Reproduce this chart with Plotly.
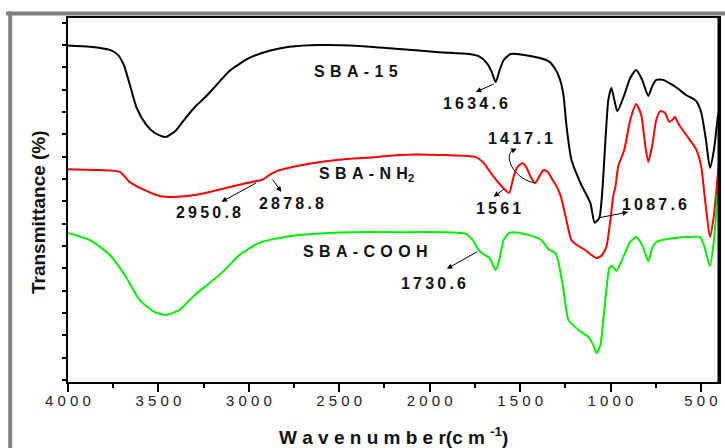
import plotly.graph_objects as go

# FTIR spectra: wavenumber (cm^-1) and relative transmittance (arbitrary offset units)
wn_sba15 = [4000, 3879, 3768, 3724, 3691, 3658, 3620, 3570, 3520, 3460, 3405, 3349, 3294, 3239, 3184,
            3107, 2997, 2886, 2776, 2611, 2390, 2170, 1949, 1784, 1729, 1685, 1657, 1635, 1613, 1591,
            1552, 1436, 1343, 1310, 1282, 1260, 1244, 1216, 1166, 1111, 1088, 1062, 1045, 1028, 1012,
            995, 979, 962, 924, 891, 858, 825, 791, 769, 747, 709, 676, 626, 582, 527, 499, 472, 450,
            428, 405, 389]
t_sba15 = [74.9, 74.6, 73.9, 72.8, 70.5, 66.1, 60.9, 57.3, 55.3, 54.4, 55.8, 58.7, 61.3, 63.4, 65.8,
           69.2, 72.1, 73.7, 74.6, 75.0, 74.8, 74.1, 73.4, 73.0, 72.5, 71.0, 69.0, 66.7, 69.4, 71.6,
           73.0, 72.5, 71.4, 69.9, 67.6, 63.8, 57.1, 49.3, 44.1, 39.6, 35.2, 36.3, 42.5, 53.7, 62.7,
           65.4, 62.7, 60.2, 63.8, 67.6, 69.4, 67.2, 63.6, 65.8, 67.2, 67.2, 66.5, 65.2, 63.8, 62.5,
           60.0, 53.7, 47.5, 51.5, 59.3, 61.6]

wn_nh2 = [4000, 3824, 3713, 3658, 3575, 3493, 3399, 3300, 3217, 3035, 2951, 2925, 2879, 2842, 2776,
          2666, 2500, 2296, 2170, 1949, 1745, 1701, 1673, 1618, 1561, 1536, 1514, 1486, 1464, 1442,
          1417, 1392, 1370, 1348, 1326, 1299, 1277, 1260, 1244, 1216, 1177, 1139, 1106, 1078, 1050,
          1023, 1001, 984, 973, 957, 924, 891, 858, 830, 808, 791, 769, 747, 725, 698, 676, 659,
          643, 626, 582, 527, 499, 477, 450, 428, 405, 389]
t_nh2 = [47.2, 47.0, 46.6, 44.3, 42.5, 41.2, 41.0, 41.4, 42.1, 43.9, 44.6, 44.8, 46.1, 46.8, 47.5,
         48.4, 49.3, 49.9, 50.4, 50.4, 49.9, 48.6, 47.0, 44.1, 41.9, 45.5, 47.7, 48.6, 47.5, 45.5,
         44.1, 45.7, 47.0, 46.6, 45.2, 43.4, 41.4, 38.7, 35.8, 31.3, 30.0, 29.1, 28.0, 27.3, 27.8,
         29.8, 35.8, 41.4, 43.2, 47.9, 51.5, 58.2, 61.8, 59.3, 52.6, 48.8, 52.6, 58.2, 60.2, 59.8,
         57.8, 58.2, 58.9, 57.5, 54.9, 51.7, 47.9, 40.3, 32.0, 36.9, 46.6, 52.8]

wn_cooh = [4000, 3879, 3768, 3686, 3603, 3520, 3454, 3383, 3300, 3217, 3134, 3052, 2942, 2776, 2556,
           2170, 1800, 1762, 1729, 1696, 1668, 1635, 1613, 1591, 1563, 1536, 1453, 1381, 1343, 1304,
           1288, 1260, 1232, 1177, 1122, 1095, 1078, 1056, 1040, 1023, 1006, 990, 968, 924, 891,
           858, 825, 791, 769, 747, 676, 571, 505, 483, 450, 428, 405, 383]
t_cooh = [32.9, 31.3, 28.0, 23.5, 17.9, 15.2, 14.6, 15.7, 19.0, 21.7, 24.6, 28.0, 30.7, 32.2, 32.9,
          33.1, 32.7, 31.3, 29.1, 28.0, 27.3, 24.6, 27.3, 31.3, 32.9, 33.1, 32.5, 31.3, 29.3, 28.4,
          26.4, 20.2, 13.4, 11.2, 9.6, 7.8, 6.0, 7.8, 13.4, 20.2, 25.1, 25.5, 24.4, 28.0, 30.9,
          32.0, 30.2, 26.6, 29.6, 30.9, 31.6, 32.0, 32.0, 30.2, 25.5, 31.3, 42.8, 55.5]

# x-axis ticks
x_ticks = [4000, 3500, 3000, 2500, 2000, 1500, 1000, 500]
x_minor = [3750, 3250, 2750, 2250, 1750, 1250, 750]

FONT = "Liberation Sans, Arial, sans-serif"
TS = "\u2009"  # thin space used for the letter-spaced labels


def spaced(s, sep=TS):
    return sep.join(s)


fig = go.Figure()
for wn, t, col in [(wn_sba15, t_sba15, "#000000"),
                   (wn_nh2, t_nh2, "#FF0000"),
                   (wn_cooh, t_cooh, "#00F000")]:
    fig.add_trace(go.Scatter(x=wn, y=t, mode="lines",
                             line=dict(color=col, width=2, shape="spline", smoothing=0.6),
                             showlegend=False, hoverinfo="skip"))

# peak labels: (text, x, y)
peak_labels = [("1634.6", 1748, 62.0), ("1417.1", 1500, 54.0), ("1561", 1621, 38.3),
               ("1087.6", 758, 39.4), ("2950.8", 3223, 37.4), ("2878.8", 2762, 39.6),
               ("1730.6", 1977, 21.7)]
for txt, x, y in peak_labels:
    fig.add_annotation(x=x, y=y, text="<b>" + spaced(txt) + "</b>", showarrow=False,
                       font=dict(family=FONT, size=16, color="#111111"))

# arrows: head (x, y) <- tail (ax, ay)
arrows = [(1745, 64.5, 1637, 66.4), (3151, 39.9, 2951, 44.3), (2820, 42.1, 2875, 45.2),
          (1646, 41.0, 1580, 43.0), (902, 37.6, 1067, 36.3), (1905, 24.9, 1729, 28.9),
          (1519, 51.8, 1547, 51.3)]
for x, y, ax, ay in arrows:
    fig.add_annotation(x=x, y=y, ax=ax, ay=ay, xref="x", yref="y", axref="x", ayref="y",
                       text="", showarrow=True, arrowhead=2, arrowsize=1.1, arrowwidth=1,
                       arrowcolor="#000000")

# curved leader for the 1417.1 band
fig.add_shape(type="path", xref="x", yref="y",
              path="M 1417 44.1 C 1519 44.8, 1591 49.3, 1547 51.3",
              line=dict(color="#000000", width=1))

# sample names
EN = "\u2004"
fig.add_annotation(x=2409, y=69.0, text="<b>" + spaced("SBA-15", EN) + "</b>", showarrow=False,
                   font=dict(family=FONT, size=16, color="#111111"))
fig.add_annotation(x=2349, y=45.9, yanchor="middle",
                   text="<b>" + spaced("SBA-NH", EN) + "<sub>2</sub></b>", showarrow=False,
                   font=dict(family=FONT, size=16, color="#111111"))
fig.add_annotation(x=2355, y=28.7, text="<b>" + spaced("SBA-COOH", EN) + "</b>", showarrow=False,
                   font=dict(family=FONT, size=16, color="#111111"))

# axis titles
fig.add_annotation(xref="paper", yref="paper", x=0.5, y=-0.148, xanchor="center", yanchor="middle",
                   text="<b>" + spaced("Wavenumber", " ") + "(c m <sup>-1</sup>)</b>",
                   showarrow=False, font=dict(family=FONT, size=19, color="#111111"))
fig.add_annotation(xref="paper", yref="paper", x=-0.046, y=0.467, xanchor="center",
                   yanchor="middle", textangle=-90,
                   text="<b>Transmittance (%)</b>", showarrow=False,
                   font=dict(family=FONT, size=19, color="#111111"))

# outer grey frame
fig.add_shape(type="line", xref="paper", yref="paper", x0=-0.095, x1=1.02, y0=1.0124, y1=1.0124,
              line=dict(color="#808080", width=4))
fig.add_shape(type="line", xref="paper", yref="paper", x0=-0.0888, x1=-0.0888, y0=1.018, y1=-0.25,
              line=dict(color="#808080", width=4))
# heavier right edge of the plot frame
fig.add_shape(type="line", xref="paper", yref="paper", x0=1, x1=1, y0=0, y1=1,
              line=dict(color="#000000", width=3))

fig.update_xaxes(range=[4000, 400], tickmode="array", tickvals=x_ticks,
                 ticktext=[" ".join(str(v)) for v in x_ticks],
                 ticks="outside", ticklen=8, tickwidth=1.5, tickcolor="#000",
                 ticklabelstandoff=-4,
                 minor=dict(tickmode="array", tickvals=x_minor, ticks="outside", ticklen=4,
                            tickwidth=1.5, tickcolor="#000"),
                 showline=True, linewidth=2, linecolor="#000", mirror=True,
                 showgrid=False, zeroline=False,
                 tickfont=dict(family=FONT, size=15, color="#222222"))
fig.update_yaxes(range=[-0.45, 81.05], tickmode="linear", tick0=0, dtick=5,
                 ticks="outside", ticklen=4, tickwidth=1.5, tickcolor="#000",
                 showticklabels=False, showline=True, linewidth=2, linecolor="#000", mirror=True,
                 showgrid=False, zeroline=False)

fig.update_layout(width=725, height=448, margin=dict(l=68, r=4, t=18, b=66),
                  paper_bgcolor="#FFFFFF", plot_bgcolor="#FFFFFF", showlegend=False)

fig.write_html("out.html")
